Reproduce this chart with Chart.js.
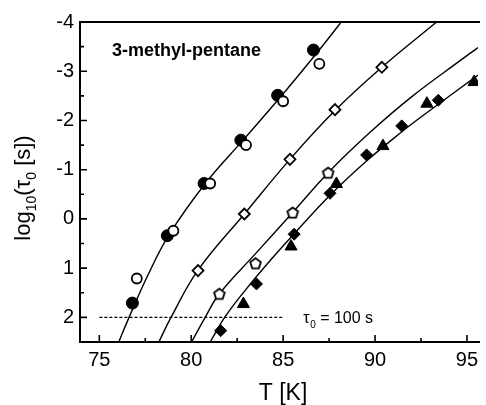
<!DOCTYPE html>
<html>
<head>
<meta charset="utf-8">
<script src="https://cdn.jsdelivr.net/npm/chart.js@4.4.1/dist/chart.umd.min.js"></script>
<style>
  html, body { margin: 0; padding: 0; background: #fff; }
  canvas { display: block; }
</style>
</head>
<body>
<canvas id="vftChart" width="486" height="405"></canvas>
<script>
// measured relaxation times, 3-methyl-pentane
var filledCircleT = [76.8, 78.7, 80.7, 82.7, 84.7, 86.65];
var filledCircleLog = [1.71, 0.34, -0.72, -1.6, -2.51, -3.43];
var openCircleT = [77.04, 79.03, 81.03, 82.98, 85.0, 86.97];
var openCircleLog = [1.21, 0.24, -0.72, -1.5, -2.39, -3.15];
var openDiamondT = [80.37, 82.89, 85.37, 87.82, 90.37];
var openDiamondLog = [1.05, -0.1, -1.21, -2.22, -3.08];
var pentagonT = [81.53, 83.5, 85.52, 87.45];
var pentagonLog = [1.52, 0.9, -0.13, -0.94];
var filledDiamondT = [81.6, 83.55, 85.6, 87.55, 89.54, 91.45, 93.44];
var filledDiamondLog = [2.27, 1.32, 0.31, -0.52, -1.3, -1.89, -2.41];
var triangleT = [82.84, 85.43, 87.9, 90.43, 92.82, 95.39];
var triangleLog = [1.73, 0.56, -0.71, -1.48, -2.34, -2.78];

// fit curves
var fit1T = [76.06, 76.56, 77.66, 78.83, 80.85, 82.82, 84.84, 86.81, 88.12];
var fit1Log = [2.5, 2.05, 1.13, 0.3, -0.76, -1.6, -2.47, -3.36, -3.98];
var fit2T = [78.24, 78.9, 80.37, 82.89, 85.37, 87.82, 90.37, 93.35];
var fit2Log = [2.5, 2.0, 1.04, -0.1, -1.21, -2.2, -3.08, -4.0];
var fit3T = [80.02, 80.76, 81.53, 83.51, 85.52, 87.45, 89.73, 92.02, 94.68, 95.6];
var fit3Log = [2.5, 2.0, 1.52, 0.7, -0.13, -0.94, -1.76, -2.49, -3.23, -3.48];
var fit4T = [81.03, 81.82, 82.98, 84.4, 85.6, 87.55, 89.52, 91.49, 92.39, 95.6];
var fit4Log = [2.5, 2.0, 1.43, 0.8, 0.3, -0.48, -1.17, -1.78, -2.04, -2.92];

// tau0 = 100 s reference line
var refT = [75, 85];
var refLog = [2, 2];

var xTicks = [75, 80, 85, 90, 95];
var xMinorTicks = [77.5, 82.5, 87.5, 92.5];
var yTicks = [-4, -3, -2, -1, 0, 1, 2];
var yMinorTicks = [-3.5, -2.5, -1.5, -0.5, 0.5, 1.5];

var FONT = "'Liberation Sans', Arial, Helvetica, sans-serif";

function pts(xs, ys) {
  return xs.map(function(x, i) { return { x: x, y: ys[i] }; });
}

// chart.js has no pentagon marker, so make one
var pentagon = document.createElement("canvas");
pentagon.width = 15;
pentagon.height = 15;
(function() {
  var c = pentagon.getContext("2d");
  c.beginPath();
  for (var i = 0; i < 5; i++) {
    var a = -Math.PI / 2 + i * 2 * Math.PI / 5;
    var px = 7.5 + 5.6 * Math.cos(a), py = 8 + 5.6 * Math.sin(a);
    if (i === 0) c.moveTo(px, py); else c.lineTo(px, py);
  }
  c.closePath();
  c.fillStyle = "#fff";
  c.fill();
  c.lineWidth = 1.8;
  c.strokeStyle = "#000";
  c.stroke();
})();

function marker(xs, ys, style, r, filled) {
  return {
    data: pts(xs, ys),
    showLine: false,
    pointStyle: style,
    pointRadius: r,
    pointBackgroundColor: filled ? "#000" : "#fff",
    pointBorderColor: "#000",
    pointBorderWidth: filled ? 1 : 1.8
  };
}

function curve(xs, ys, dash) {
  return {
    data: pts(xs, ys),
    showLine: true,
    pointRadius: 0,
    borderColor: "#000",
    borderWidth: dash ? 1.3 : 1.4,
    borderDash: dash || [],
    tension: 0.4,
    fill: false
  };
}

function drawRuns(ctx, runs, size) {
  var subSize = Math.round(size * 0.62);
  var total = 0;
  runs.forEach(function(r) {
    ctx.font = (r.sub ? subSize : size) + "px " + FONT;
    r.w = ctx.measureText(r.t).width;
    total += r.w;
  });
  var x = -total / 2;
  runs.forEach(function(r) {
    ctx.font = (r.sub ? subSize : size) + "px " + FONT;
    ctx.fillText(r.t, x, r.sub ? size * 0.28 : 0);
    x += r.w;
  });
}

var decor = {
  id: "decor",
  afterDraw: function(chart) {
    var ctx = chart.ctx, a = chart.chartArea;
    var xs = chart.scales.x, ys = chart.scales.y;
    ctx.save();
    ctx.strokeStyle = "#000";
    ctx.fillStyle = "#000";

    // frame: left, bottom, top
    ctx.lineWidth = 2;
    ctx.beginPath();
    ctx.moveTo(a.right + 2, a.top);
    ctx.lineTo(a.left, a.top);
    ctx.lineTo(a.left, a.bottom);
    ctx.lineTo(a.right + 2, a.bottom);
    ctx.stroke();

    // inward ticks
    ctx.lineWidth = 1.6;
    ctx.beginPath();
    xTicks.forEach(function(v) {
      var p = xs.getPixelForValue(v);
      ctx.moveTo(p, a.bottom); ctx.lineTo(p, a.bottom - 7);
    });
    xMinorTicks.forEach(function(v) {
      var p = xs.getPixelForValue(v);
      ctx.moveTo(p, a.bottom); ctx.lineTo(p, a.bottom - 4);
    });
    yTicks.forEach(function(v) {
      var p = ys.getPixelForValue(v);
      ctx.moveTo(a.left, p); ctx.lineTo(a.left + 7, p);
    });
    yMinorTicks.forEach(function(v) {
      var p = ys.getPixelForValue(v);
      ctx.moveTo(a.left, p); ctx.lineTo(a.left + 4, p);
    });
    ctx.stroke();

    // sample name
    ctx.font = "bold 18px " + FONT;
    ctx.textAlign = "left";
    ctx.textBaseline = "middle";
    ctx.fillText("3-methyl-pentane", a.left + 32, a.top + 29);

    // tau0 = 100 s note
    ctx.textBaseline = "alphabetic";
    ctx.save();
    ctx.translate(xs.getPixelForValue(86.1), ys.getPixelForValue(2) + 6);
    ctx.textAlign = "left";
    var note = [{ t: "\u03c4", sub: false }, { t: "0", sub: true }, { t: " = 100 s", sub: false }];
    var nx = 0;
    note.forEach(function(r) {
      ctx.font = (r.sub ? 10 : 16) + "px " + FONT;
      ctx.fillText(r.t, nx, r.sub ? 5 : 0);
      nx += ctx.measureText(r.t).width + (r.sub ? 0 : 0.5);
    });
    ctx.restore();

    // axis titles
    ctx.textAlign = "left";
    ctx.save();
    ctx.translate(30, 188);
    ctx.rotate(-Math.PI / 2);
    drawRuns(ctx, [
      { t: "log", sub: false }, { t: "10", sub: true },
      { t: "(\u03c4", sub: false }, { t: "0", sub: true },
      { t: " [s])", sub: false }
    ], 22);
    ctx.restore();

    ctx.save();
    ctx.translate((a.left + a.right) / 2 + 4, 400);
    drawRuns(ctx, [{ t: "T [K]", sub: false }], 23);
    ctx.restore();

    ctx.restore();
  }
};

var ctx = document.getElementById("vftChart").getContext("2d");

var vftChart = new Chart(ctx, {
  type: "scatter",
  data: {
    datasets: [
      marker(openCircleT, openCircleLog, "circle", 5, false),
      marker(openDiamondT, openDiamondLog, "rectRot", 5.5, false),
      Object.assign(marker(pentagonT, pentagonLog, pentagon, 6, false), { pointStyle: pentagon }),
      marker(filledCircleT, filledCircleLog, "circle", 6, true),
      marker(filledDiamondT, filledDiamondLog, "rectRot", 6, true),
      marker(triangleT, triangleLog, "triangle", 7, true),
      curve(fit1T, fit1Log),
      curve(fit2T, fit2Log),
      curve(fit3T, fit3Log),
      curve(fit4T, fit4Log),
      curve(refT, refLog, [3, 2])
    ]
  },
  options: {
    responsive: false,
    animation: false,
    layout: { padding: { top: 22, right: 0, left: 0, bottom: 0 } },
    plugins: {
      legend: { display: false },
      tooltip: { enabled: false }
    },
    scales: {
      x: {
        type: "linear",
        min: 73.95,
        max: 95.6,
        grid: { display: false, drawTicks: false },
        border: { display: false },
        afterBuildTicks: function(s) { s.ticks = xTicks.map(function(v) { return { value: v }; }); },
        afterFit: function(s) { s.height = 63; s.paddingLeft = 0; s.paddingRight = 0; },
        ticks: {
          padding: 6,
          color: "#000",
          font: { family: FONT, size: 20 }
        }
      },
      y: {
        type: "linear",
        reverse: true,
        min: -4,
        max: 2.5,
        grid: { display: false, drawTicks: false },
        border: { display: false },
        afterBuildTicks: function(s) { s.ticks = yTicks.map(function(v) { return { value: v }; }); },
        afterFit: function(s) { s.width = 80; s.paddingTop = 0; s.paddingBottom = 0; },
        ticks: {
          padding: 6,
          color: "#000",
          font: { family: FONT, size: 20 }
        }
      }
    }
  },
  plugins: [decor]
});
</script>
</body>
</html>
